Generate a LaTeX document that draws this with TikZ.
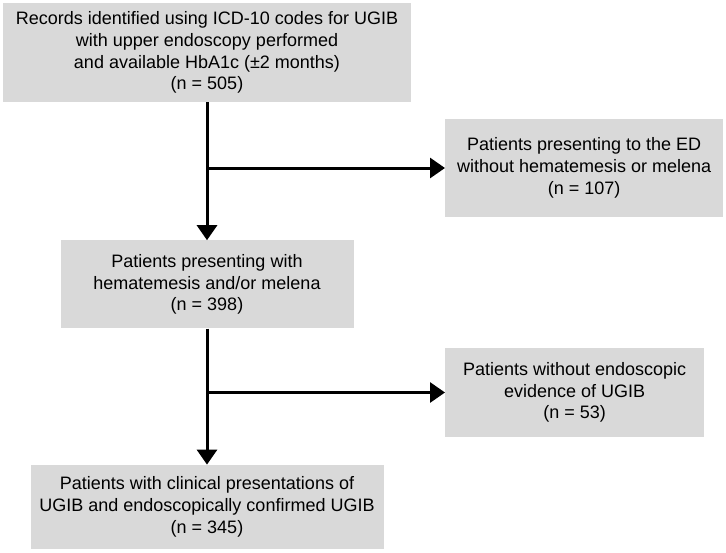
\documentclass[tikz,border=0pt]{standalone}
\usepackage{fontspec}
\setmainfont{Liberation Sans}
\usetikzlibrary{arrows.meta,positioning}
\definecolor{boxgray}{RGB}{217,217,217}

\begin{document}
\begin{tikzpicture}[x=1pt,y=-1pt,>={Triangle[width=20pt,length=15pt]}]
  \tikzstyle{box}=[fill=boxgray,inner sep=0pt,align=center,font=\fontsize{18}{21.8}\selectfont]
  \tikzstyle{flow}=[line width=3pt]
  \useasboundingbox (0,0) rectangle (726,552);
  \node[box,minimum width=408pt,minimum height=99pt] (rec) at (207,52.5) {Records identified using ICD-10 codes for UGIB\\with upper endoscopy performed\\and available HbA1c (±2 months)\\(n = 505)};
  \node[box,minimum width=293pt,minimum height=88pt,below=138pt of rec] (hem) {Patients presenting with\\hematemesis and/or melena\\(n = 398)};
  \node[box,minimum width=353pt,minimum height=84pt,below=136pt of hem] (conf) {Patients with clinical presentations of\\UGIB and endoscopically confirmed UGIB\\(n = 345)};
  \node[box,minimum width=278pt,minimum height=98pt,anchor=west] (noed) at (445,168) {Patients presenting to the ED\\without hematemesis or melena\\(n = 107)};
  \node[box,minimum width=259pt,minimum height=89pt,anchor=west] (noendo) at (445,392.5) {Patients without endoscopic\\evidence of UGIB\\(n = 53)};
  \coordinate (split1) at (noed.west -| rec.south);
  \coordinate (split2) at (noendo.west -| hem.south);
  \draw[flow,->] (rec) -- (hem);
  \draw[flow,->] (split1) -- (noed);
  \draw[flow,->] (hem) -- (conf);
  \draw[flow,->] (split2) -- (noendo);
\end{tikzpicture}
\end{document}
